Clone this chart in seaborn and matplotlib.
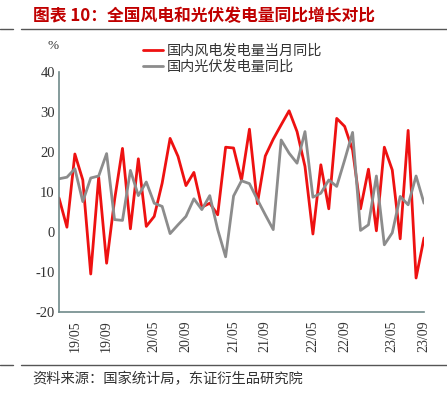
import numpy as np
import pandas as pd
import matplotlib
matplotlib.use("Agg")
import matplotlib.pyplot as plt
import seaborn as sns
from matplotlib.lines import Line2D

# ---- data (monthly, Jan/Feb combined & omitted; 2019/03 - 2023/09) ----
months = []
for y in range(19, 24):
    for m in range(3, 13):
        if y == 23 and m > 9:
            break
        months.append(f"{y}/{m:02d}")

wind = [8.5, 1.2, 19.5, 13.0, -10.5, 13.7, -7.8, 8.0, 20.9, 0.8,
        18.3, 1.4, 3.9, 12.2, 23.4, 18.9, 11.6, 14.9, 6.2, 7.2,
        4.3, 21.2, 21.0, 12.9, 25.7, 7.1, 19.0, 23.2, 26.8, 30.3,
        25.1, 16.4, -0.5, 16.8, 5.8, 28.4, 26.4, 20.5, 5.8, 15.7,
        0.3, 21.2, 15.5, -1.7, 25.4, -11.5, -1.5]
solar = [13.3, 13.7, 15.8, 7.6, 13.5, 14.0, 19.6, 3.1, 2.9, 15.4,
         9.1, 12.5, 7.2, 6.4, -0.4, 1.8, 3.9, 8.3, 5.6, 9.1,
         0.6, -6.2, 9.0, 12.8, 12.1, 8.1, 4.3, 0.6, 23.0, 19.7,
         17.2, 25.1, 8.7, 9.7, 13.0, 11.4, 18.0, 24.9, 0.4, 1.8,
         14.0, -3.2, -0.2, 8.9, 6.8, 14.0, 7.2]

tick_labels = ["19/05", "19/09", "20/05", "20/09", "21/05", "21/09",
               "22/05", "22/09", "23/05", "23/09"]
series_names = ["国内风电发电量当月同比", "国内光伏发电量同比"]
colors = ["#ee1111", "#8c8c8c"]
y_ticks = [-20, -10, 0, 10, 20, 30, 40]

df = pd.DataFrame({
    "idx": list(range(len(months))) * 2,
    "value": wind + solar,
    "series": [series_names[0]] * len(wind) + [series_names[1]] * len(solar),
})

sns.set_style("white")
plt.rcParams["font.family"] = ["Noto Sans CJK SC", "DejaVu Sans"]

fig = plt.figure(figsize=(4.47, 3.99), dpi=100)
ax = fig.add_axes([59 / 447, 1 - 312 / 399, (424 - 59) / 447, (312 - 72) / 399])

sns.lineplot(data=df, x="idx", y="value", hue="series",
             palette=dict(zip(series_names, colors)), linewidth=2.0,
             ax=ax, legend=False)

ax.set_xlim(0, len(months) - 1)
ax.set_ylim(-20, 40)
ax.set_xlabel("")
ax.set_ylabel("")

tick_pos = [months.index(t) for t in tick_labels]
ax.set_xticks(tick_pos)
ax.set_xticklabels(tick_labels, rotation=90, family="Liberation Serif",
                   fontsize=10, color="#333333")
ax.set_yticks(y_ticks)
ax.set_yticklabels([str(v) for v in y_ticks], family="Liberation Serif",
                   fontsize=10.5, color="#333333")

spine_col = "#6f8a8a"
for s in ["top", "right"]:
    ax.spines[s].set_visible(False)
for s in ["left", "bottom"]:
    ax.spines[s].set_color(spine_col)
    ax.spines[s].set_linewidth(1.2)
ax.tick_params(axis="both", direction="in", length=3, color=spine_col,
               width=1, pad=3)
ax.tick_params(axis="x", pad=6)

# legend
handles = [Line2D([], [], color=c, lw=2.0) for c in colors]
fig.legend(handles, series_names, loc="upper left",
           bbox_to_anchor=(133 / 447, 1 - 34 / 399), frameon=False,
           fontsize=10.2, handlelength=1.4, handletextpad=0.3,
           labelspacing=0.15, borderpad=0.2, labelcolor="#333333")

# unit
fig.text(53 / 447, 1 - 46 / 399, "%", ha="center", va="center",
         fontsize=9.5, color="#333333", family="Liberation Serif")

# title
fig.text(33 / 447, 1 - 16 / 399, "图表 10：全国风电和光伏发电量同比增长对比",
         ha="left", va="center", fontsize=12.1, color="#c00000",
         fontweight="bold")

# separator lines
for yy in [29, 365]:
    yf = 1 - yy / 399
    fig.add_artist(Line2D([0, 13 / 447], [yf, yf], color="#555555", lw=1.0,
                          transform=fig.transFigure))
    fig.add_artist(Line2D([21 / 447, 1], [yf, yf], color="#555555", lw=1.0,
                          transform=fig.transFigure))

# source
fig.text(32 / 447, 1 - 379 / 399, "资料来源：国家统计局，东证衍生品研究院",
         ha="left", va="center", fontsize=10.3, color="#333333")

fig.savefig("out.png", dpi=100)
